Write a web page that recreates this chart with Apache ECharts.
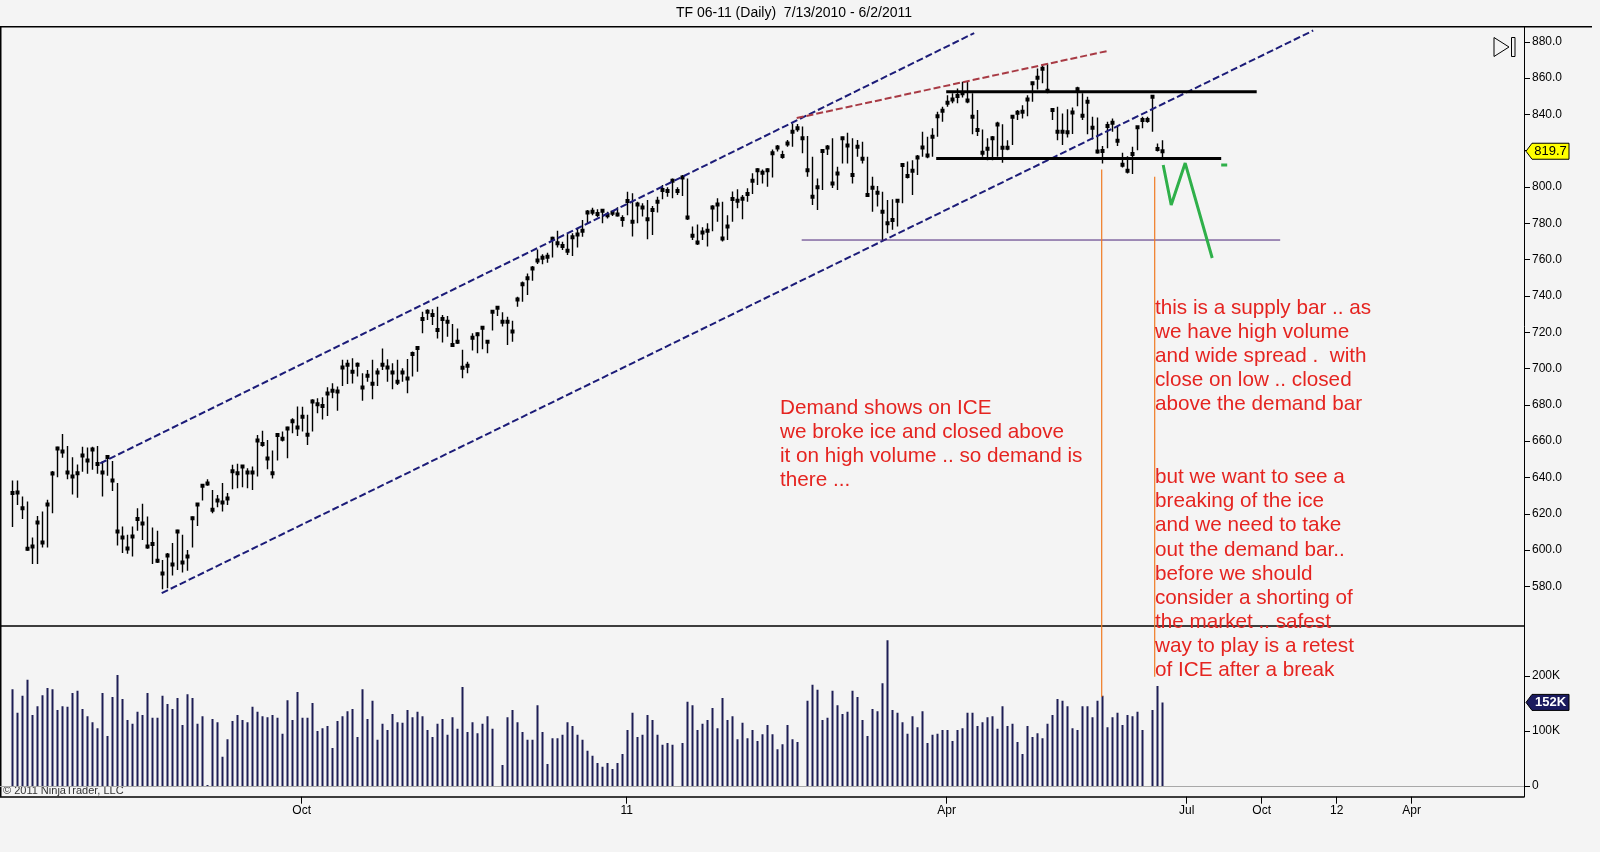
<!DOCTYPE html>
<html><head><meta charset="utf-8">
<script src="https://cdn.jsdelivr.net/npm/echarts@6/dist/echarts.min.js"></script>
<style>html,body{margin:0;padding:0;background:#f4f4f4;overflow:hidden}#c{width:1600px;height:852px}</style>
</head><body><div id="c"></div>
<script>
const TITLE = 'TF 06-11 (Daily)  7/13/2010 - 6/2/2011';
const COPYRIGHT = '\u00a9 2011 NinjaTrader, LLC';

const HIGH = [
638.3,638.3,629.5,626.8,607.0,618.8,621.3,627.7,643.6,657.0,
664.0,657.4,651.2,647.2,657.0,656.5,657.0,657.4,649.1,652.4,
649.1,636.9,613.0,608.5,613.0,623.0,625.5,618.5,612.5,610.6,
594.6,598.4,603.9,611.2,608.5,600.1,618.5,625.9,636.0,639.0,
633.1,630.4,636.9,631.4,647.0,647.5,646.8,645.1,646.0,663.4,
665.7,660.7,654.8,664.0,665.3,668.0,672.6,679.1,679.0,674.5,
683.1,683.6,684.2,689.7,691.9,690.1,704.8,704.8,705.7,703.3,
697.4,699.2,704.8,700.2,711.1,705.1,702.9,704.8,700.2,705.3,
709.4,712.0,731.3,732.7,732.7,734.1,729.5,729.0,724.6,722.1,
710.3,703.8,719.4,719.8,723.1,715.8,732.2,734.5,731.0,728.6,
726.3,739.6,747.9,752.4,756.5,765.6,762.9,763.8,772.6,775.9,
769.9,774.1,774.5,777.2,781.8,787.3,788.6,787.7,787.7,786.4,
786.9,788.8,784.5,797.4,796.5,791.9,791.0,792.9,789.6,794.6,
801.1,799.8,804.7,799.8,806.6,804.7,778.2,779.4,777.8,780.0,
790.0,793.8,791.9,784.5,797.5,798.8,795.6,799.3,807.6,810.3,
809.7,810.3,820.7,823.2,820.0,825.9,835.0,834.7,833.3,828.1,
816.7,804.7,820.3,823.2,826.8,811.2,827.7,829.9,826.8,825.9,
824.9,816.7,805.7,800.5,797.4,792.9,793.2,792.9,813.0,814.0,
814.8,817.6,830.4,827.7,832.3,841.5,844.2,850.6,851.6,854.3,
858.0,858.0,851.6,842.4,831.7,826.8,828.1,836.0,834.6,825.8,
839.6,842.4,845.1,850.6,858.0,865.3,867.2,868.0,843.3,844.2,
840.5,842.8,843.8,855.2,851.6,849.7,838.7,838.3,822.6,836.0,
837.8,833.6,818.9,817.0,822.2,833.1,838.7,838.7,850.6,824.0,825.8];

const LOW = [
612.7,624.9,617.1,599.7,592.3,592.3,601.4,601.4,620.3,640.2,
650.9,639.0,630.6,628.9,643.2,642.0,644.2,642.0,629.5,640.9,
632.6,602.6,598.4,598.0,596.5,610.6,605.6,600.7,592.3,592.9,
578.5,579.0,586.0,589.1,587.7,588.7,601.4,613.3,627.3,635.4,
620.3,623.6,621.3,624.9,633.5,634.1,634.6,634.1,633.1,640.5,
657.0,644.5,639.4,649.3,659.8,650.6,664.4,662.9,665.3,657.9,
665.3,675.4,672.0,673.9,683.6,676.8,690.4,691.5,691.8,695.6,
682.3,692.8,683.1,690.4,699.2,692.8,688.6,690.9,692.8,686.4,
695.6,698.3,719.4,726.8,724.0,716.6,714.3,717.5,712.0,713.5,
694.6,697.4,709.9,708.4,710.6,708.4,720.9,729.0,723.1,713.0,
714.8,734.1,736.8,740.5,748.4,757.6,757.4,758.3,761.2,766.7,
765.3,762.5,762.0,766.7,772.6,780.0,784.5,783.3,780.0,782.7,
784.0,783.7,778.1,784.5,772.7,780.0,783.7,771.2,773.6,785.9,
793.2,794.6,793.8,795.6,795.0,781.8,770.8,768.1,770.8,767.2,
775.7,780.9,770.0,770.8,780.9,788.3,782.2,791.9,796.1,801.1,
802.0,800.2,805.3,819.6,815.6,822.2,822.2,830.5,818.6,805.7,
790.1,787.4,798.4,817.6,799.4,798.4,813.0,813.0,802.0,816.7,
813.0,794.6,786.4,789.2,770.8,774.5,776.4,778.2,791.0,804.7,
795.6,806.6,816.7,815.8,816.7,827.7,836.0,844.2,846.1,846.1,
849.3,846.1,829.0,828.1,816.7,814.8,814.8,816.7,813.4,820.3,
823.1,836.9,837.8,839.0,847.0,853.7,857.1,851.6,836.9,825.8,
823.1,827.3,829.2,844.5,836.9,829.0,826.2,818.5,813.0,821.3,
830.4,822.6,810.8,807.5,807.1,820.3,832.3,835.4,830.4,819.6,815.7];

const CLOSE = [
631.4,631.7,623.0,600.7,602.0,615.2,604.2,625.1,642.2,656.0,
654.3,642.7,640.5,642.4,652.1,649.3,655.4,647.4,642.7,651.3,
638.3,610.2,607.0,600.9,607.5,617.1,614.6,602.0,603.3,594.1,
587.1,597.0,592.1,610.2,593.2,596.5,617.6,625.1,635.4,636.7,
622.2,627.3,626.2,628.4,643.4,642.4,646.0,642.7,642.7,660.4,
658.5,650.4,642.4,663.4,661.3,667.0,671.0,667.5,673.5,663.6,
681.8,680.4,679.4,686.2,687.8,687.3,700.6,702.1,698.3,702.1,
689.5,696.0,691.7,697.8,702.1,700.6,697.8,692.8,697.8,694.5,
708.0,711.3,727.3,731.3,729.5,721.2,727.3,725.8,713.0,714.8,
700.5,701.6,717.0,718.9,722.5,714.8,731.3,733.5,725.8,725.8,
720.4,738.1,746.5,749.7,755.1,759.5,761.0,761.6,771.5,769.0,
767.5,764.9,772.3,773.9,775.9,786.0,786.4,785.1,786.9,784.5,
785.8,784.9,782.4,792.3,780.9,790.4,788.7,782.2,787.4,791.9,
798.4,797.8,803.5,797.8,805.3,783.2,773.2,769.4,775.0,775.9,
788.7,790.4,771.7,778.2,793.4,792.5,793.6,796.1,803.5,809.3,
807.9,809.3,818.6,821.7,817.1,824.0,830.5,832.3,826.8,809.3,
794.6,799.8,819.8,821.7,802.0,807.5,826.8,822.8,806.6,822.2,
815.6,795.6,799.6,796.9,786.4,780.0,781.8,792.5,812.1,806.0,
809.0,816.3,821.7,817.3,827.7,839.0,842.0,846.4,848.2,850.1,
851.6,847.6,838.7,831.4,818.9,821.1,826.8,834.4,821.6,821.6,
838.7,840.9,841.5,848.2,857.1,860.2,865.1,853.0,842.4,830.4,
830.4,830.1,841.1,853.9,839.2,847.0,832.7,819.6,819.9,833.6,
835.4,825.5,812.3,809.0,818.2,832.9,836.9,836.9,849.7,820.9,819.7];

// volume in thousands of contracts
const VOLUME_K = [
176,133,164,193,129,145,165,178,176,138,
145,144,169,173,140,127,116,105,169,91,
162,202,158,120,113,135,129,169,124,124,
164,149,140,160,111,167,160,113,127,2,
122,116,53,85,118,129,120,116,144,135,
127,125,129,124,95,156,120,171,124,124,
151,100,105,109,69,118,127,136,140,89,
176,122,155,84,113,102,131,116,115,138,
125,135,127,102,89,113,122,93,125,104,
180,98,116,96,113,127,104,0,38,125,
138,116,98,84,84,147,98,40,87,87,
93,116,109,93,84,64,55,42,35,42,
31,42,58,102,133,89,93,129,120,93,
75,78,75,0,78,153,147,102,113,120,
142,105,160,120,127,85,115,87,102,82,
94,111,94,67,76,111,85,80,0,155,
184,175,120,124,173,147,131,135,173,162,
120,91,140,136,187,265,138,133,116,95,
127,107,136,78,93,95,102,102,82,102,
105,133,133,109,116,125,127,104,145,109,
113,80,58,109,89,96,87,113,129,158,
155,145,105,102,145,145,125,155,164,107,
125,133,111,129,127,135,102,0,138,182,152];

// axis ticks (x in bar-index units; future area is compressed on the original chart)
const X_TICKS = [58,123,187,235,250,265,280];
const X_LABELS = ['Oct','11','Apr','Jul','Oct','12','Apr'];
const PRICE_TICKS = [580,600,620,640,660,680,700,720,740,760,780,800,820,840,860,880];
const VOLUME_TICKS = [0,100,200];

// drawn objects, in [bar index, price] units
const CHANNEL_UPPER = [[17.7,647.8],[192.5,884.8]];
const CHANNEL_LOWER = [[30,576.3],[260.3,886.2]];
const RED_TREND = [[157,838.0],[219.1,874.9]];
const RANGE_TOP = [[186.9,852.5],[249,852.5]];
const RANGE_BOTTOM = [[184.9,815.7],[241.9,815.7]];
const SUPPORT_LINE = [[158,770.8],[253.7,770.8]];
const GREEN_PATH = [[230.3,812.1],[231.9,790.1],[234.7,813.2],[240.1,760.9]];
const GREEN_DASH = [[241.9,812.1],[243.1,812.1]];
// orange markers: [bar index, price at top, volume (K) at bottom]
const ORANGE_MARKERS = [[218,809.7,162],[228.6,805.7,198.7]];

const TEXT_DEMAND = ['Demand shows on ICE','we broke ice and closed above','it on high volume .. so demand is','there ...'];
const TEXT_SUPPLY = ['this is a supply bar .. as','we have high volume','and wide spread .  with','close on low .. closed','above the demand bar'];
const TEXT_PLAN = ['but we want to see a','breaking of the ice','and we need to take','out the demand bar..','before we should','consider a shorting of','the market .. safest','way to play is a retest','of ICE after a break'];

const X_MIN = -2.34, X_MAX = 302.46;
const PRICE_MIN = 558.2, PRICE_MAX = 888.3;
const VOL_MIN = -19.45, VOL_MAX = 290.9;

const FONT = '"Liberation Sans", Arial, sans-serif';
const RED = '#e52420';

const ohlc = HIGH.map((h, i) => [i, h, LOW[i], CLOSE[i]]);
const vols = VOLUME_K.map((v, i) => [i, v]);

const chart = echarts.init(document.getElementById('c'));

function dashed(data, color, width, dash) {
  return { type: 'line', xAxisIndex: 0, yAxisIndex: 0, data: data, symbol: 'none', silent: true, z: 4,
    lineStyle: { color: color, width: width, type: dash || 'solid', cap: 'butt' }, animation: false };
}

const series = [
  { type: 'custom', xAxisIndex: 0, yAxisIndex: 0, data: ohlc, clip: true, z: 3,
    renderItem: function (params, api) {
      const i = api.value(0);
      const pH = api.coord([i, api.value(1)]);
      const pL = api.coord([i, api.value(2)]);
      const pC = api.coord([i, api.value(3)]);
      const x = Math.round(pH[0]) + 0.5;
      return { type: 'group', children: [
        { type: 'line', shape: { x1: x, y1: pH[1], x2: x, y2: pL[1] }, style: { stroke: '#000', lineWidth: 1.4 } },
        { type: 'rect', shape: { x: x - 2, y: pC[1] - 2, width: 4, height: 4 }, style: { fill: '#000' } }
      ] };
    }, animation: false },
  { type: 'custom', xAxisIndex: 1, yAxisIndex: 1, data: vols, clip: true, z: 3,
    renderItem: function (params, api) {
      const i = api.value(0);
      const p0 = api.coord([i, 0]);
      const p1 = api.coord([i, api.value(1)]);
      return { type: 'rect', shape: { x: Math.round(p0[0]) - 0.5, y: p1[1], width: 2, height: p0[1] - p1[1] },
        style: { fill: '#1e1e55' } };
    },
    markLine: { silent: true, symbol: 'none', label: { show: false },
      lineStyle: { color: '#a8a8a8', width: 1, type: 'solid' }, data: [{ yAxis: 0 }], animation: false },
    animation: false },
  dashed(CHANNEL_UPPER, '#1c1c78', 2, [7, 3]),
  dashed(CHANNEL_LOWER, '#1c1c78', 2, [7, 3]),
  dashed(RED_TREND, '#a83a44', 2, [7, 3]),
  dashed(RANGE_TOP, '#000', 3),
  dashed(RANGE_BOTTOM, '#000', 3),
  dashed(SUPPORT_LINE, '#4a2378', 1),
  dashed(GREEN_PATH, '#2fb04a', 3),
  dashed(GREEN_DASH, '#2fb04a', 3)
];
ORANGE_MARKERS.forEach(m => {
  series.push(dashed([[m[0], m[1]], [m[0], PRICE_MIN]], '#f07a22', 1.2));
  series.push({ type: 'line', xAxisIndex: 1, yAxisIndex: 1, data: [[m[0], VOL_MAX], [m[0], m[2]]], symbol: 'none',
    silent: true, z: 4, lineStyle: { color: '#f07a22', width: 1.2 }, animation: false });
});

const labelStyle = { color: '#000', fontFamily: FONT, fontSize: 12 };

chart.setOption({
  backgroundColor: '#f4f4f4',
  animation: false,
  grid: [
    { left: 0, right: 76, top: 26.7, height: 599.3, containLabel: false, outerBoundsMode: 'none' },
    { left: 0, right: 76, top: 626, height: 170.7, containLabel: false, outerBoundsMode: 'none' }
  ],
  xAxis: [
    { type: 'value', gridIndex: 0, min: X_MIN, max: X_MAX, axisLine: { show: true, onZero: false, lineStyle: { color: '#000', width: 1.5 } },
      axisTick: { show: false }, axisLabel: { show: false }, splitLine: { show: false } },
    { type: 'value', gridIndex: 1, min: X_MIN, max: X_MAX, axisLine: { show: true, onZero: false, lineStyle: { color: '#000', width: 1.5 } },
      axisTick: { show: true, length: 7, customValues: X_TICKS, lineStyle: { color: '#000' } },
      axisLabel: Object.assign({ customValues: X_TICKS, margin: 8,
        formatter: v => { const k = X_TICKS.findIndex(t => Math.abs(t - v) < 0.01); return k >= 0 ? X_LABELS[k] : ''; } }, labelStyle),
      splitLine: { show: false } }
  ],
  yAxis: [
    { type: 'value', gridIndex: 0, position: 'right', min: PRICE_MIN, max: PRICE_MAX,
      axisLine: { show: true, onZero: false, lineStyle: { color: '#000', width: 1 } },
      axisTick: { show: true, length: 6, customValues: PRICE_TICKS, lineStyle: { color: '#000' } },
      axisLabel: Object.assign({ customValues: PRICE_TICKS, margin: 8, formatter: v => v.toFixed(1) }, labelStyle),
      splitLine: { show: false } },
    { type: 'value', gridIndex: 1, position: 'right', min: VOL_MIN, max: VOL_MAX,
      axisLine: { show: true, onZero: false, lineStyle: { color: '#000', width: 1 } },
      axisTick: { show: true, length: 6, customValues: VOLUME_TICKS, lineStyle: { color: '#000' } },
      axisLabel: Object.assign({ customValues: VOLUME_TICKS, margin: 8, formatter: v => v === 0 ? '0' : v + 'K' }, labelStyle),
      splitLine: { show: false } }
  ],
  series: series
});

// overlay texts and value flags
const lastClose = CLOSE[CLOSE.length - 1];
const lastVol = VOLUME_K[VOLUME_K.length - 1];
const yClose = chart.convertToPixel({ yAxisIndex: 0 }, lastClose);
const yVol = chart.convertToPixel({ yAxisIndex: 1 }, lastVol);
const axisX = chart.convertToPixel({ xAxisIndex: 0 }, X_MAX);

function flag(y, text, fill, color, bold) {
  return [
    { type: 'polygon', shape: { points: [[axisX + 2, y], [axisX + 8, y - 8], [axisX + 45, y - 8], [axisX + 45, y + 8], [axisX + 8, y + 8]] },
      style: { fill: fill, stroke: '#000', lineWidth: 1 }, z: 10 },
    { type: 'text', x: axisX + 26.5, y: y, z: 11, style: { text: text, fill: color, fontFamily: FONT, fontSize: 13,
      fontWeight: bold ? 'bold' : 'normal', align: 'center', verticalAlign: 'middle' } }
  ];
}

function textBlock(lines, x, y) {
  return { type: 'text', x: x, y: y, z: 12, style: { text: lines.join('\n'), fill: RED, fontFamily: FONT,
    fontSize: 20.7, lineHeight: 24.1, align: 'left', verticalAlign: 'top' } };
}

chart.setOption({
  graphic: [
    { type: 'text', x: 794, y: 13, style: { text: TITLE, fill: '#000', fontFamily: FONT, fontSize: 14, align: 'center', verticalAlign: 'middle' } },
    { type: 'line', shape: { x1: 0, y1: 26.7, x2: 1592, y2: 26.7 }, style: { stroke: '#000', lineWidth: 1.5 } },
    { type: 'line', shape: { x1: 0.75, y1: 26.7, x2: 0.75, y2: 796.7 }, style: { stroke: '#000', lineWidth: 1.5 } },
    { type: 'polygon', shape: { points: [[1494, 37.5], [1494, 56.5], [1509, 47]] }, style: { fill: 'none', stroke: '#000', lineWidth: 1 } },
    { type: 'rect', shape: { x: 1511.5, y: 37.5, width: 3.5, height: 19 }, style: { fill: 'none', stroke: '#000', lineWidth: 1 } },
    { type: 'text', x: 3, y: 791, style: { text: COPYRIGHT, fill: '#333', fontFamily: FONT, fontSize: 11, verticalAlign: 'middle' } },
    textBlock(TEXT_DEMAND, 780, 396),
    textBlock(TEXT_SUPPLY, 1155, 296),
    textBlock(TEXT_PLAN, 1155, 465.5)
  ].concat(flag(yClose, lastClose.toFixed(1), '#ffff00', '#000', false))
   .concat(flag(yVol, lastVol + 'K', '#1a1a5e', '#fff', true))
});
</script>
</body></html>
